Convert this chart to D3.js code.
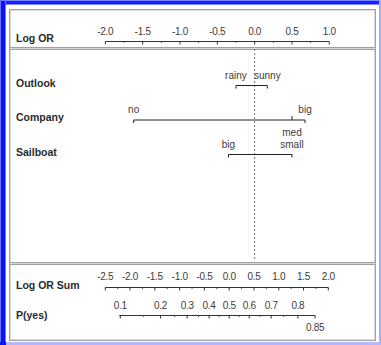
<!DOCTYPE html>
<html>
<head>
<meta charset="utf-8">
<script src="https://cdn.jsdelivr.net/npm/d3@7"></script>
<style>
  html, body { margin: 0; padding: 0; background: #ffffff; }
  svg { display: block; }
  text { font-family: "Liberation Sans", Arial, sans-serif; }
</style>
</head>
<body>
<script>
// Nomogram: per-attribute log odds ratios, summed log OR and predicted P(yes)
const attributes = ["Outlook", "Company", "Sailboat"];

const outlookLevels = ["rainy", "sunny"];
const outlookLogOR = [-0.25, 0.17];

const companyLevels = ["no", "med", "big"];
const companyLogOR = [-1.62, 0.50, 0.675];

const sailboatLevels = ["big", "small"];
const sailboatLogOR = [-0.35, 0.50];

const logOrTicks = [-2.0, -1.5, -1.0, -0.5, 0.0, 0.5, 1.0];
const logOrSumTicks = [-2.5, -2.0, -1.5, -1.0, -0.5, 0.0, 0.5, 1.0, 1.5, 2.0];
const pYesTicks = [0.1, 0.2, 0.3, 0.4, 0.5, 0.6, 0.7, 0.8];
const pYesMinorTicks = [0.15, 0.25, 0.35, 0.45, 0.55, 0.65, 0.75];
const pYesEnd = 0.85;

const rows = [
  { name: attributes[0], levels: outlookLevels, values: outlookLogOR },
  { name: attributes[1], levels: companyLevels, values: companyLogOR },
  { name: attributes[2], levels: sailboatLevels, values: sailboatLogOR }
];

const W = 381, H = 345;
const svg = d3.select("body").append("svg").attr("width", W).attr("height", H);

// window chrome
svg.append("rect").attr("x", 0).attr("y", 0).attr("width", W).attr("height", H).attr("fill", "#ffffff");
svg.append("rect").attr("x", 0).attr("y", 0).attr("width", W).attr("height", 5).attr("fill", "#7f86ff");
svg.append("rect").attr("x", 1).attr("y", 1).attr("width", W - 1).attr("height", 3).attr("fill", "#1020ff");
svg.append("rect").attr("x", 0).attr("y", 0).attr("width", 6).attr("height", H).attr("fill", "#6a72ff");
svg.append("rect").attr("x", 1).attr("y", 1).attr("width", 4).attr("height", H - 1).attr("fill", "#0a14f0");
svg.append("rect").attr("x", W - 2).attr("y", 0).attr("width", 2).attr("height", H).attr("fill", "#a8acff");
svg.append("rect").attr("x", 0).attr("y", H - 3).attr("width", W).attr("height", 3).attr("fill", "#b4b8ff");
svg.append("rect").attr("x", 0).attr("y", H - 3).attr("width", 6).attr("height", 3).attr("fill", "#0a14f0");

// panel frames
const panelLeft = 9.5, panelRight = 375.5;
svg.append("rect").attr("x", panelLeft).attr("y", 9.5)
  .attr("width", panelRight - panelLeft).attr("height", 331)
  .attr("fill", "#ffffff").attr("stroke", "#a0a0a0").attr("stroke-width", 1);
svg.append("rect").attr("x", panelLeft + 1).attr("y", 10.5)
  .attr("width", panelRight - panelLeft - 2).attr("height", 329)
  .attr("fill", "none").attr("stroke", "#dcdcdc").attr("stroke-width", 1);
[47.5, 262.5].forEach(y => {
  svg.append("line").attr("x1", panelLeft).attr("x2", panelRight).attr("y1", y).attr("y2", y)
    .attr("stroke", "#a0a0a0");
  svg.append("line").attr("x1", panelLeft).attr("x2", panelRight).attr("y1", y + 1).attr("y2", y + 1)
    .attr("stroke", "#d8d8d8");
  svg.append("line").attr("x1", panelLeft).attr("x2", panelRight).attr("y1", y + 2).attr("y2", y + 2)
    .attr("stroke", "#a0a0a0");
});

const ink = "#2a2a2a";
const tickText = "#3c3c3c";
const fmt = d => d.toFixed(1);

// scales
const x = d3.scaleLinear().domain([-2.0, 1.0]).range([105.3, 329.3]);
const xSum = d3.scaleLinear().domain([-2.5, 2.0]).range([105.3, 328.3]);
const logit = p => Math.log(p / (1 - p));
const xP = p => xSum(logit(p));
const yRow = d3.scalePoint().domain(attributes).range([85, 154]);

function title(txt, y) {
  svg.append("text").attr("x", 16).attr("y", y).attr("font-size", 10.5)
    .attr("font-weight", "bold").attr("fill", ink).text(txt);
}

// draws a horizontal scale with major/minor ticks hanging below the line
function scaleLine(g, xs, y, majors, minors, labelY) {
  const x0 = xs(majors[0]), x1 = xs(majors[majors.length - 1]);
  g.append("line").attr("x1", x0).attr("x2", x1).attr("y1", y).attr("y2", y)
    .attr("stroke", "#333").attr("stroke-width", 1);
  g.selectAll(null).data(majors).join("line")
    .attr("x1", d => xs(d)).attr("x2", d => xs(d))
    .attr("y1", y).attr("y2", y + 3).attr("stroke", "#333");
  g.selectAll(null).data(minors).join("line")
    .attr("x1", d => xs(d)).attr("x2", d => xs(d))
    .attr("y1", y).attr("y2", y + 1.5).attr("stroke", "#555");
  g.selectAll(null).data(majors).join("text")
    .attr("x", d => xs(d)).attr("y", labelY).attr("text-anchor", "middle")
    .attr("font-size", 10).attr("fill", tickText).attr("letter-spacing", -0.3)
    .text(fmt);
}

// header: Log OR scale
title("Log OR", 42);
const minorLogOr = d3.range(-1.75, 1.0, 0.5);
scaleLine(svg.append("g"), x, 41.5, logOrTicks, minorLogOr, 35);

// zero reference line
svg.append("line").attr("x1", x(0)).attr("x2", x(0)).attr("y1", 49).attr("y2", 261)
  .attr("stroke", "#777").attr("stroke-width", 1).attr("stroke-dasharray", "2,2");

// attribute rows
rows.forEach(row => {
  const y = yRow(row.name) + 0.5;
  const g = svg.append("g");
  title(row.name, y + 1);
  const xmin = x(d3.min(row.values)), xmax = x(d3.max(row.values));
  g.append("line").attr("x1", xmin).attr("x2", xmax).attr("y1", y).attr("y2", y)
    .attr("stroke", "#222").attr("stroke-width", 1);

  const n = row.values.length;
  // place labels from the highest value downward; a label that would collide goes below
  const order = d3.range(n).sort((a, b) => row.values[b] - row.values[a]);
  let lastLeft = Infinity;
  order.forEach(i => {
    const v = row.values[i];
    const cx = x(v);
    const w = row.levels[i].length * 5.5;
    const isEnd = (v === d3.min(row.values) || v === d3.max(row.values));
    let below = false;
    if (cx + w / 2 > lastLeft) below = true; else lastLeft = cx - w / 2;
    g.append("line").attr("x1", cx).attr("x2", cx)
      .attr("y1", y).attr("y2", isEnd ? y + 3 : y - 4)
      .attr("stroke", "#222");
    g.append("text").attr("x", cx).attr("y", below ? y + 16 : y - 7)
      .attr("text-anchor", "middle").attr("font-size", 10).attr("fill", tickText)
      .text(row.levels[i]);
  });
});

// bottom: summed log OR and probability scales
title("Log OR Sum", 289);
const minorSum = d3.range(-2.25, 2.0, 0.5);
scaleLine(svg.append("g"), xSum, 287.5, logOrSumTicks, minorSum, 280);

title("P(yes)", 319);
const gP = svg.append("g");
gP.append("line").attr("x1", xP(pYesTicks[0]) - 1).attr("x2", xP(pYesEnd)).attr("y1", 315.5).attr("y2", 315.5)
  .attr("stroke", "#333");
gP.selectAll(null).data(pYesTicks.concat([pYesEnd])).join("line")
  .attr("x1", d => xP(d)).attr("x2", d => xP(d)).attr("y1", 315.5).attr("y2", 318.5).attr("stroke", "#333");
gP.selectAll(null).data(pYesMinorTicks).join("line")
  .attr("x1", d => xP(d)).attr("x2", d => xP(d)).attr("y1", 315.5).attr("y2", 317).attr("stroke", "#555");
gP.selectAll(null).data(pYesTicks).join("text")
  .attr("x", d => xP(d)).attr("y", 309).attr("text-anchor", "middle")
  .attr("font-size", 10).attr("fill", tickText).attr("letter-spacing", -0.3).text(fmt);
gP.append("text").attr("x", xP(pYesEnd)).attr("y", 331).attr("text-anchor", "middle")
  .attr("font-size", 10).attr("fill", tickText).attr("letter-spacing", -0.3).text(String(pYesEnd));
</script>
</body>
</html>
